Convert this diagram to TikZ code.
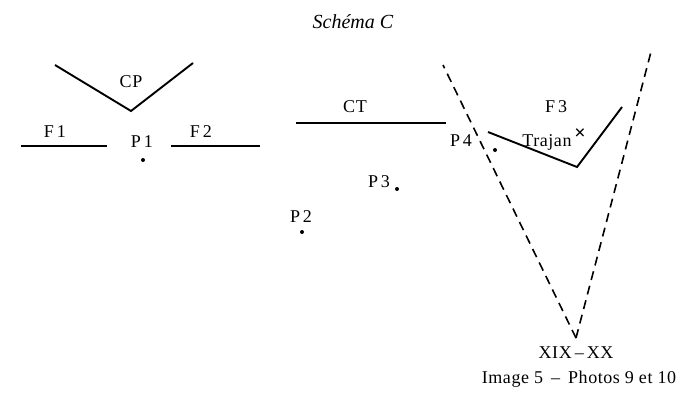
\documentclass[tikz,border=0pt]{standalone}
\usepackage{fontspec}
\setmainfont{Liberation Serif}
\newfontfamily\spaced[LetterSpace=3]{Liberation Serif}
\begin{document}
\begin{tikzpicture}[x=1pt,y=-1pt,
  wall/.style={line width=1.9pt},
  axis/.style={line width=1.6pt,dash pattern=on 9pt off 6pt},
  lbl/.style={font=\spaced\fontsize{18}{20}\selectfont,inner sep=0pt},
  spot/.style={circle,fill=black,inner sep=0pt,minimum size=4pt}]
\useasboundingbox (0,0) rectangle (700,402);
\node[inner sep=0pt,font=\fontsize{20}{22}\selectfont\itshape] (title) at (353,22) {Schéma C};
% CP
\coordinate (cpa) at (55,65); \coordinate (cpb) at (131,111); \coordinate (cpc) at (193,63);
\draw[wall] (cpa) -- (cpb) -- (cpc);
\node[lbl] (cp) at (131,82) {CP};
% F1, F2
\coordinate (f1a) at (21,146); \coordinate (f1b) at (107,146);
\draw[wall] (f1a) -- (f1b);
\node[lbl] (f1) at (55,132) {F\,1};
\coordinate (f2a) at (171,146); \coordinate (f2b) at (260,146);
\draw[wall] (f2a) -- (f2b);
\node[lbl] (f2) at (201,132) {F\,2};
\node[lbl] (p1) at (142,142) {P\,1};
\node[spot] (d1) at (143,160) {};
% CT
\coordinate (cta) at (296,123); \coordinate (ctb) at (446,123);
\draw[wall] (cta) -- (ctb);
\node[lbl] (ct) at (355,107) {CT};
\node[lbl] (p3) at (379,182) {P\,3};
\node[spot] (d3) at (397,189) {};
\node[lbl] (p2) at (301,217) {P\,2};
\node[spot] (d2) at (302,232) {};
\node[lbl] (p4) at (461,141) {P\,4};
\node[spot] (d4) at (495,150) {};
% dashed V
\coordinate (va) at (443,65); \coordinate (vb) at (576,338); \coordinate (vc) at (652,48);
\draw[axis] (vb) -- (va);
\draw[axis] (vb) -- (vc);
% F3
\coordinate (f3a) at (488,132); \coordinate (f3b) at (577,167); \coordinate (f3c) at (622,107);
\draw[wall] (f3a) -- (f3b) -- (f3c);
\node[lbl] (f3) at (556,107) {F\,3};
\node[lbl] (trajan) at (547,142) {Trajan};
\node[inner sep=0pt,font=\fontsize{20}{22}\selectfont\bfseries] (x) at (580,134) {×};
\node[lbl] (xix) at (576,353) {XIX\,–\,XX};
\node[lbl] (img) at (579,379) {Image 5 \,–\, Photos 9 et 10};
\end{tikzpicture}
\end{document}
